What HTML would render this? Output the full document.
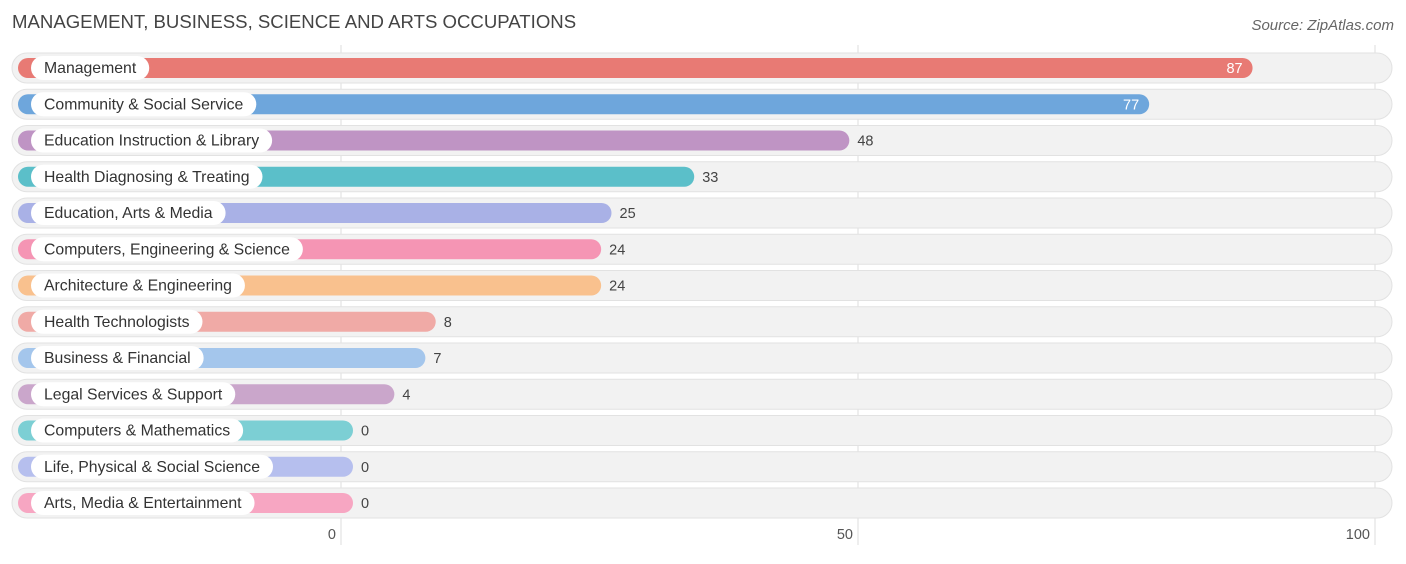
<!DOCTYPE html>
<html><head><meta charset="utf-8">
<style>
body{margin:0;background:#fff;width:1406px;height:559px;overflow:hidden;font-family:"Liberation Sans",sans-serif;}
</style></head><body>
<svg width="1406" height="559" xmlns="http://www.w3.org/2000/svg">
<text x="12" y="28" font-size="18.6" fill="#444">MANAGEMENT, BUSINESS, SCIENCE AND ARTS OCCUPATIONS</text>
<text x="1394" y="30" font-size="15" fill="#666" font-style="italic" text-anchor="end">Source: ZipAtlas.com</text>
<g id="grid"></g>
<g id="rows"></g>
<g id="ticks"></g>
</svg>
<script>
const categories=["Management","Community & Social Service","Education Instruction & Library","Health Diagnosing & Treating","Education, Arts & Media","Computers, Engineering & Science","Architecture & Engineering","Health Technologists","Business & Financial","Legal Services & Support","Computers & Mathematics","Life, Physical & Social Science","Arts, Media & Entertainment"];
const values=[87,77,48,33,25,24,24,8,7,4,0,0,0];
const colors=["#e87a74","#6ea6dc","#bf94c4","#5bbfc9","#a9b1e6","#f595b4","#f9c18e","#f0aaa6","#a4c6ec","#caa6cb","#7ccfd4","#b6bfee","#f7a6c2"];
const tickValues=[0,50,100];
const NS="http://www.w3.org/2000/svg";
const x0=341,scale=10.34,minW=12;
const xAxis=v=>x0+v*scale;
const barEnd=v=>x0+minW+v*scale;
const yRow=i=>68+i*36.25;
function mk(t,a,p){const e=document.createElementNS(NS,t);for(const k in a)e.setAttribute(k,a[k]);p.appendChild(e);return e;}
const grid=document.getElementById('grid'),rows=document.getElementById('rows'),ticks=document.getElementById('ticks');
tickValues.forEach(t=>{
 const l=mk('line',{x1:xAxis(t),x2:xAxis(t),y1:45,y2:545,stroke:'#ddd','stroke-width':1},grid);
 
 
 const tx=mk('text',{x:xAxis(t)-5,y:539,'font-size':14.5,fill:'#555','text-anchor':'end'},ticks);
 tx.textContent=t;
 
 
});
categories.forEach((c,i)=>{
 const y=yRow(i);
 const g=mk('g',{},rows);
 
 
 const bg=mk('rect',{x:12,y:y-15,width:1380,height:30,rx:15,fill:'#f2f2f2',stroke:'#e2e2e2'},g);
 
 
 const bar=mk('rect',{x:18,y:y-10,width:barEnd(values[i])-18,height:20,rx:10,fill:colors[i]},g);
 
 
 const lt=mk('text',{x:44,y:y+5,'font-size':15.8,fill:'#333'},g);
 lt.textContent=c;
 
 
 const w=lt.getComputedTextLength();
 const pill=mk('rect',{x:31,y:y-12,width:w+26,height:24,rx:12,fill:'#fff'},g);
 
 
 g.appendChild(lt);
 const inside=values[i]>60;
 const vt=mk('text',{x:inside?barEnd(values[i])-10:barEnd(values[i])+8,y:y+5,'font-size':14.5,fill:inside?'#fff':'#444','text-anchor':inside?'end':'start'},g);
 vt.textContent=values[i];
 
 
});
</script>
</body></html>
